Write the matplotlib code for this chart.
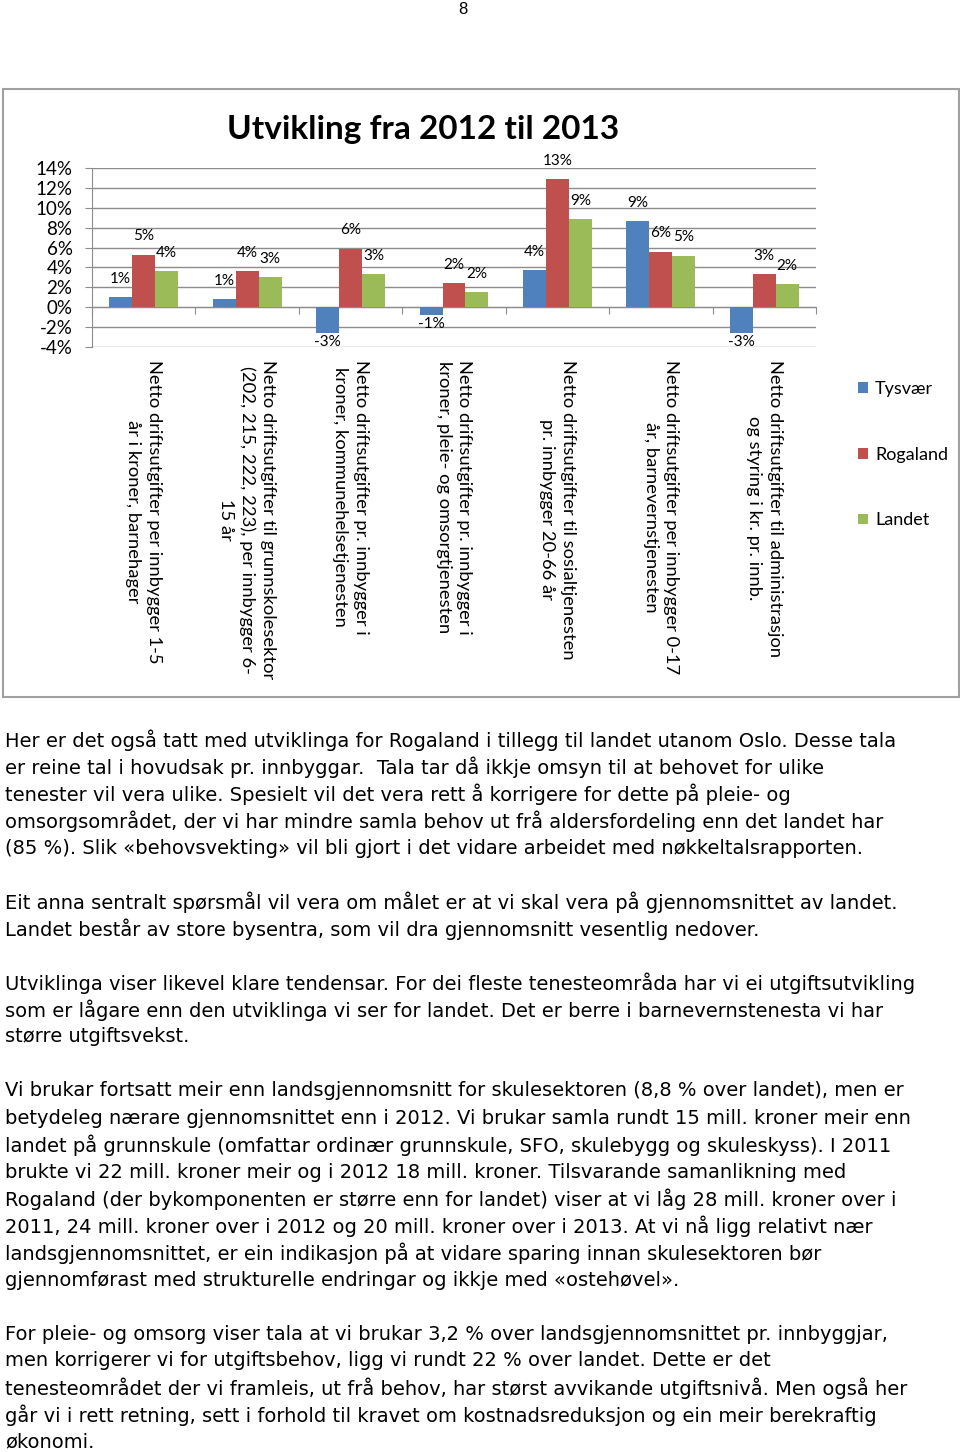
import matplotlib
matplotlib.use("Agg")
import matplotlib.pyplot as plt
import numpy as np
from matplotlib.patches import Rectangle
from matplotlib.ticker import FuncFormatter

W, H = 960, 1452

CATEGORIES = [
    "Netto driftsutgifter per innbygger 1-5\når i kroner, barnehager",
    "Netto driftsutgifter til grunnskolesektor\n(202, 215, 222, 223), per innbygger 6-\n15 år",
    "Netto driftsutgifter pr. innbygger i\nkroner, kommunehelsetjenesten",
    "Netto driftsutgifter pr. innbygger i\nkroner, pleie- og omsorgtjenesten",
    "Netto driftsutgifter til sosialtjenesten\npr. innbygger 20-66 år",
    "Netto driftsutgifter per innbygger 0-17\når, barnevernstjenesten",
    "Netto driftsutgifter til administrasjon\nog styring i kr. pr. innb.",
]
SERIES = ["Tysvær", "Rogaland", "Landet"]
TYSVAER = [0.010, 0.008, -0.026, -0.008, 0.037, 0.087, -0.026]
ROGALAND = [0.053, 0.036, 0.059, 0.024, 0.129, 0.056, 0.033]
LANDET = [0.036, 0.030, 0.033, 0.0155, 0.089, 0.052, 0.023]
COLORS = ["#4F81BD", "#C0504D", "#9BBB59"]

TITLE = "Utvikling fra 2012 til 2013"
PAGE_NO = "8"

BODY_LINES = [
    "Her er det også tatt med utviklinga for Rogaland i tillegg til landet utanom Oslo. Desse tala",
    "er reine tal i hovudsak pr. innbyggar.  Tala tar då ikkje omsyn til at behovet for ulike",
    "tenester vil vera ulike. Spesielt vil det vera rett å korrigere for dette på pleie- og",
    "omsorgsområdet, der vi har mindre samla behov ut frå aldersfordeling enn det landet har",
    "(85 %). Slik «behovsvekting» vil bli gjort i det vidare arbeidet med nøkkeltalsrapporten.",
    "",
    "Eit anna sentralt spørsmål vil vera om målet er at vi skal vera på gjennomsnittet av landet.",
    "Landet består av store bysentra, som vil dra gjennomsnitt vesentlig nedover.",
    "",
    "Utviklinga viser likevel klare tendensar. For dei fleste tenesteområda har vi ei utgiftsutvikling",
    "som er lågare enn den utviklinga vi ser for landet. Det er berre i barnevernstenesta vi har",
    "større utgiftsvekst.",
    "",
    "Vi brukar fortsatt meir enn landsgjennomsnitt for skulesektoren (8,8 % over landet), men er",
    "betydeleg nærare gjennomsnittet enn i 2012. Vi brukar samla rundt 15 mill. kroner meir enn",
    "landet på grunnskule (omfattar ordinær grunnskule, SFO, skulebygg og skuleskyss). I 2011",
    "brukte vi 22 mill. kroner meir og i 2012 18 mill. kroner. Tilsvarande samanlikning med",
    "Rogaland (der bykomponenten er større enn for landet) viser at vi låg 28 mill. kroner over i",
    "2011, 24 mill. kroner over i 2012 og 20 mill. kroner over i 2013. At vi nå ligg relativt nær",
    "landsgjennomsnittet, er ein indikasjon på at vidare sparing innan skulesektoren bør",
    "gjennomførast med strukturelle endringar og ikkje med «ostehøvel».",
    "",
    "For pleie- og omsorg viser tala at vi brukar 3,2 % over landsgjennomsnittet pr. innbyggjar,",
    "men korrigerer vi for utgiftsbehov, ligg vi rundt 22 % over landet. Dette er det",
    "tenesteområdet der vi framleis, ut frå behov, har størst avvikande utgiftsnivå. Men også her",
    "går vi i rett retning, sett i forhold til kravet om kostnadsreduksjon og ein meir berekraftig",
    "økonomi.",
]

CHART_FONT = "Lato"
BODY_FONT = "DejaVu Sans"


def fx(px):
    return px / W


def fy(py):
    return 1 - py / H


def main() -> None:
    fig = plt.figure(figsize=(W / 100, H / 100), dpi=100)
    fig.patch.set_facecolor("white")

    fig.text(fx(463), fy(10), PAGE_NO, ha="center", va="center",
             fontsize=12, family="Liberation Sans")

    # chart frame
    fig.add_artist(Rectangle((fx(3), fy(697)), fx(956), 608 / H, fill=False,
                             edgecolor="#a0a0a0", lw=1.5, transform=fig.transFigure))

    fig.text(fx(423), fy(130), TITLE, ha="center", va="center",
             fontsize=24, fontweight="bold", family=CHART_FONT)

    ax = fig.add_axes([fx(92), fy(347), fx(724), 179 / H])
    x = np.arange(len(CATEGORIES))
    width = 0.222
    bars = []
    for k, (vals, color, name) in enumerate(zip([TYSVAER, ROGALAND, LANDET], COLORS, SERIES)):
        xs = x + (k - 1) * width
        b = ax.bar(xs, vals, width, color=color, label=name, zorder=3)
        bars.append(b)
        for xi, v in zip(xs, vals):
            off = 13 if v >= 0 else -6.5
            ax.annotate(f"{round(v * 100):d}%", (xi, v), xytext=(0, off),
                        textcoords="offset points", ha="center", va="center",
                        fontsize=11, family=CHART_FONT, zorder=4)

    ax.set_xlim(-0.5, len(CATEGORIES) - 0.5)
    ax.set_ylim(-0.04, 0.14)
    ax.set_yticks(np.arange(-0.04, 0.141, 0.02))
    ax.yaxis.set_major_formatter(FuncFormatter(lambda v, p: f"{round(v * 100):d}%"))
    ax.set_xticks(np.arange(-0.5, len(CATEGORIES), 1.0))
    ax.set_xticklabels([])
    ax.yaxis.grid(True, color="#8c8c8c", lw=1, zorder=0)
    for s in ["top", "right"]:
        ax.spines[s].set_visible(False)
    ax.spines["bottom"].set_position(("data", 0))
    ax.spines["bottom"].set_color("#8c8c8c")
    ax.spines["left"].set_color("#8c8c8c")
    ax.tick_params(axis="x", direction="out", length=5, color="#8c8c8c")
    ax.tick_params(axis="y", direction="out", length=5, color="#8c8c8c",
                   labelsize=13.5, pad=9)
    for lbl in ax.get_yticklabels():
        lbl.set_family(CHART_FONT)

    trans = ax.get_xaxis_transform()
    for xi, cat in zip(x, CATEGORIES):
        ax.text(xi, (347 - 360) / 179, cat, rotation=-90, ha="center", va="top",
                multialignment="center", transform=trans, fontsize=13.2,
                family=CHART_FONT, linespacing=1.35)

    fig.legend(handles=bars, labels=SERIES, loc="upper left",
               bbox_to_anchor=(fx(849), fy(372)), frameon=False,
               prop={"family": CHART_FONT, "size": 13},
               handlelength=0.55, handleheight=0.55, handletextpad=0.4,
               labelspacing=2.75, borderpad=0)

    # body text
    y0 = 740
    for i, line in enumerate(BODY_LINES):
        if line:
            fig.text(fx(5), fy(y0 + i * 27), line, ha="left", va="center",
                     fontsize=14, family=BODY_FONT)

    fig.savefig("out.png", dpi=100)
    plt.close(fig)


if __name__ == "__main__":
    main()
